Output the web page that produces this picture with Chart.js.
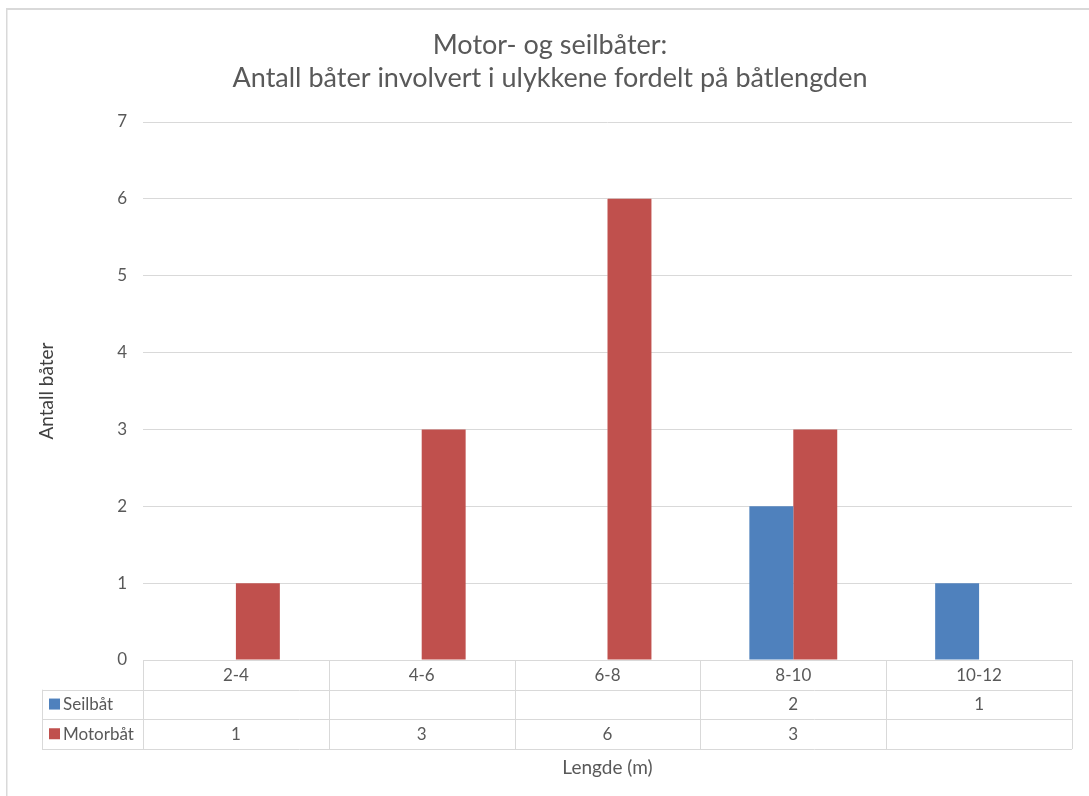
<!DOCTYPE html>
<html>
<head>
<meta charset="utf-8">
<script src="https://cdn.jsdelivr.net/npm/chart.js@4/dist/chart.umd.min.js"></script>
<style>
  html, body { margin: 0; padding: 0; background: #ffffff; }
  #wrap { width: 1089px; height: 796px; }
</style>
</head>
<body>
<div id="wrap"><canvas id="c" width="1089" height="796"></canvas></div>
<script>
// Boat length classes (m) and number of boats per class
const categories = ['2-4', '4-6', '6-8', '8-10', '10-12'];
const seilbat = [null, null, null, 2, 1];
const motorbat = [1, 3, 6, 3, null];
const seriesNames = ['Seilbåt', 'Motorbåt'];
const yTicks = [0, 1, 2, 3, 4, 5, 6, 7];

const FONT = 'Lato, "Open Sans", sans-serif';
const TEXT = '#595959';
const LINE = '#d9d9d9';
const BLUE = '#4f81bd';
const RED = '#c0504d';
const SMALL = 17;
const AXIS_TITLE = 19;

// Frame, data table under the plot and the x-axis title
const tablePlugin = {
  id: 'dataTable',
  beforeDraw(chart) {
    const ctx = chart.ctx;
    ctx.save();
    ctx.fillStyle = '#d9d9d9';
    ctx.fillRect(6, 8, chart.width - 6, 2);
    ctx.fillRect(6, 8, 1.5, chart.height - 8);
    ctx.restore();
  },
  afterDraw(chart) {
    const ctx = chart.ctx;
    const x = chart.scales.x;
    const area = chart.chartArea;
    const rowH = 29.7;
    const top = area.bottom;
    const labelLeft = 42;
    const n = categories.length;
    const step = (x.getPixelForValue(1) - x.getPixelForValue(0));
    const edges = [];
    for (let i = 0; i <= n; i++) edges.push(x.getPixelForValue(i) - step / 2);

    ctx.save();
    ctx.strokeStyle = LINE;
    ctx.lineWidth = 1;
    ctx.beginPath();
    // horizontal rules
    ctx.moveTo(edges[0], Math.round(top) + 0.5);
    ctx.lineTo(edges[n], Math.round(top) + 0.5);
    for (let r = 1; r <= 3; r++) {
      const yy = Math.round(top + r * rowH) + 0.5;
      ctx.moveTo(labelLeft, yy);
      ctx.lineTo(edges[n], yy);
    }
    // vertical rules
    for (let i = 0; i <= n; i++) {
      const xx = Math.round(edges[i]) + 0.5;
      ctx.moveTo(xx, top);
      ctx.lineTo(xx, top + 3 * rowH);
    }
    ctx.moveTo(labelLeft + 0.5, top + rowH);
    ctx.lineTo(labelLeft + 0.5, top + 3 * rowH);
    ctx.stroke();

    // series rows
    ctx.font = SMALL + 'px ' + FONT;
    ctx.textBaseline = 'middle';
    chart.data.datasets.forEach((ds, r) => {
      const cy = top + (r + 1.5) * rowH;
      ctx.fillStyle = ds.backgroundColor;
      ctx.fillRect(49, cy - 6, 11, 11);
      ctx.fillStyle = TEXT;
      ctx.textAlign = 'left';
      ctx.fillText(seriesNames[r], 63, cy);
      ctx.textAlign = 'center';
      ds.data.forEach((v, i) => {
        if (v !== null) ctx.fillText(String(v), x.getPixelForValue(i), cy);
      });
    });

    // x-axis title
    ctx.font = AXIS_TITLE + 'px ' + FONT;
    ctx.textAlign = 'center';
    ctx.fillText('Lengde (m)', (area.left + area.right) / 2, 768);
    ctx.restore();
  }
};

new Chart(document.getElementById('c'), {
  type: 'bar',
  data: {
    labels: categories,
    datasets: [
      { label: seriesNames[0], data: seilbat, backgroundColor: BLUE, borderWidth: 0 },
      { label: seriesNames[1], data: motorbat, backgroundColor: RED, borderWidth: 0 }
    ]
  },
  options: {
    responsive: false,
    animation: false,
    categoryPercentage: 0.473,
    barPercentage: 1,
    layout: { padding: { left: 28, right: 17, top: 10, bottom: 0 } },
    plugins: {
      legend: { display: false },
      tooltip: { enabled: false },
      title: {
        display: true,
        text: ['Motor- og seilbåter:', 'Antall båter involvert i ulykkene fordelt på båtlengden'],
        color: TEXT,
        font: { family: FONT, size: 27, weight: 'normal', lineHeight: 33 / 27 },
        padding: { top: 18.5, bottom: 27.5 }
      }
    },
    scales: {
      x: {
        grid: { display: false, drawTicks: false },
        border: { display: false },
        ticks: { color: TEXT, font: { family: FONT, size: SMALL }, padding: 5, maxRotation: 0 },
        afterFit(scale) { scale.height = 136; }
      },
      y: {
        min: 0,
        max: 7,
        afterBuildTicks(scale) { scale.ticks = yTicks.map(v => ({ value: v })); },
        grid: { color: LINE, lineWidth: 1, drawTicks: false },
        border: { display: false },
        ticks: { color: TEXT, font: { family: FONT, size: SMALL }, padding: 16 },
        title: {
          display: true,
          text: 'Antall båter',
          color: '#404040',
          font: { family: FONT, size: AXIS_TITLE },
          padding: { top: 7, bottom: 0 }
        },
        afterFit(scale) { scale.width = 115; }
      }
    }
  },
  plugins: [tablePlugin]
});
</script>
</body>
</html>
